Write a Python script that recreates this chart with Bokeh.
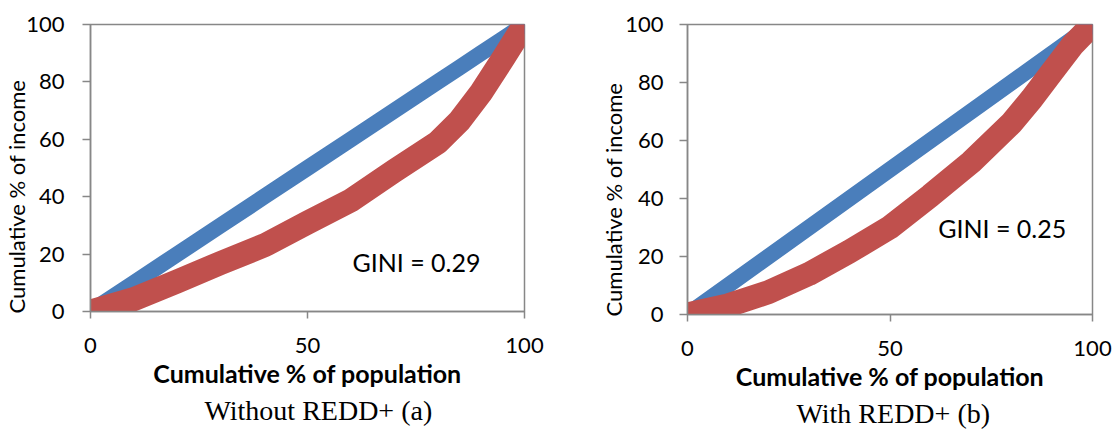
from bokeh.plotting import figure
from bokeh.layouts import row
from bokeh.models import Range1d, FixedTicker, Title, Label
from bokeh.embed import file_html
from bokeh.resources import INLINE

# ---- data ----
population_pct = [0, 10, 20, 30, 40, 50, 60, 70, 80, 85, 90, 95, 100]
equality_income = [0, 10, 20, 30, 40, 50, 60, 70, 80, 85, 90, 95, 100]
income_without_redd = [0, 4.3, 10.5, 16.9, 23, 31, 38.7, 49, 58.9, 66.4, 76.3, 88, 100]
income_with_redd = [0, 3.1, 7.7, 14, 21.7, 30.1, 41, 52.5, 66, 74.4, 83.6, 92.8, 100]
gini_labels = ["GINI = 0.29", "GINI = 0.25"]
captions = ["Without REDD+ (a)", "With REDD+ (b)"]
x_ticks = [0, 50, 100]
y_ticks = [0, 20, 40, 60, 80, 100]
x_title = "Cumulative % of population"
y_title = "Cumulative % of income"

BLUE = "#4a7ebb"
RED = "#c0504d"
GRAY = "#878787"
SANS = "Lato"
SERIF = "Liberation Serif"


def make_panel(lorenz, gini, caption, gx, gy, fw, fh, bl, br, bb,
               y_standoff, title_standoff, cap_offset):
    p = figure(frame_width=fw, frame_height=fh,
               min_border_left=bl, min_border_right=br,
               min_border_top=24, min_border_bottom=bb,
               x_range=Range1d(0, 100), y_range=Range1d(0, 100),
               toolbar_location=None, output_backend="svg",
               background_fill_color="white", border_fill_color="white")
    p.grid.visible = False
    p.outline_line_color = GRAY
    p.outline_line_width = 1.5

    for ax in (p.xaxis[0], p.yaxis[0]):
        ax.axis_line_color = GRAY
        ax.axis_line_width = 1.5
        ax.major_tick_line_color = GRAY
        ax.major_tick_line_width = 1.5
        ax.minor_tick_line_color = None
        ax.major_tick_in = 0
        ax.major_label_text_font = SANS
        ax.major_label_text_font_size = "22px"
        ax.major_label_text_color = "black"

    p.xaxis[0].ticker = FixedTicker(ticks=x_ticks)
    p.yaxis[0].ticker = FixedTicker(ticks=y_ticks)
    p.xaxis[0].major_tick_out = 7
    p.yaxis[0].major_tick_out = 8
    p.xaxis[0].major_label_standoff = 19
    p.yaxis[0].major_label_standoff = y_standoff

    p.xaxis[0].axis_label = x_title
    p.xaxis[0].axis_label_text_font = SANS
    p.xaxis[0].axis_label_text_font_style = "bold"
    p.xaxis[0].axis_label_text_font_size = "25px"
    p.xaxis[0].axis_label_text_color = "black"
    p.xaxis[0].axis_label_standoff = 2

    # y title: starts at the bottom of the frame, as in the original
    p.add_layout(Title(text=y_title, align="left", standoff=title_standoff,
                       offset=-2,
                       text_font=SANS, text_font_style="normal",
                       text_font_size="22px", text_color="black"), "left")

    p.add_layout(Title(text=caption, align="left", standoff=5, offset=cap_offset,
                       text_font=SERIF, text_font_style="normal",
                       text_font_size="28px", text_color="black"), "below")

    p.line(population_pct, equality_income, line_color=BLUE, line_width=16,
           line_cap="square", line_join="round")
    p.line(population_pct, lorenz, line_color=RED, line_width=24,
           line_cap="square", line_join="round")

    p.add_layout(Label(x=gx, y=gy, text=gini, text_align="center",
                       text_baseline="middle", text_font=SANS,
                       text_font_size="25px", text_color="black"))
    return p


left = make_panel(income_without_redd, gini_labels[0], captions[0],
                  75.1, 17.1, 434, 287, 90, 36, 119, 18, -12, 114)
right = make_panel(income_with_redd, gini_labels[1], captions[1],
                   77.7, 29.8, 405, 290, 127, 24, 116, 16, -9, 109)

layout = row(left, right)
open("out.html", "w").write(file_html(layout, INLINE))
